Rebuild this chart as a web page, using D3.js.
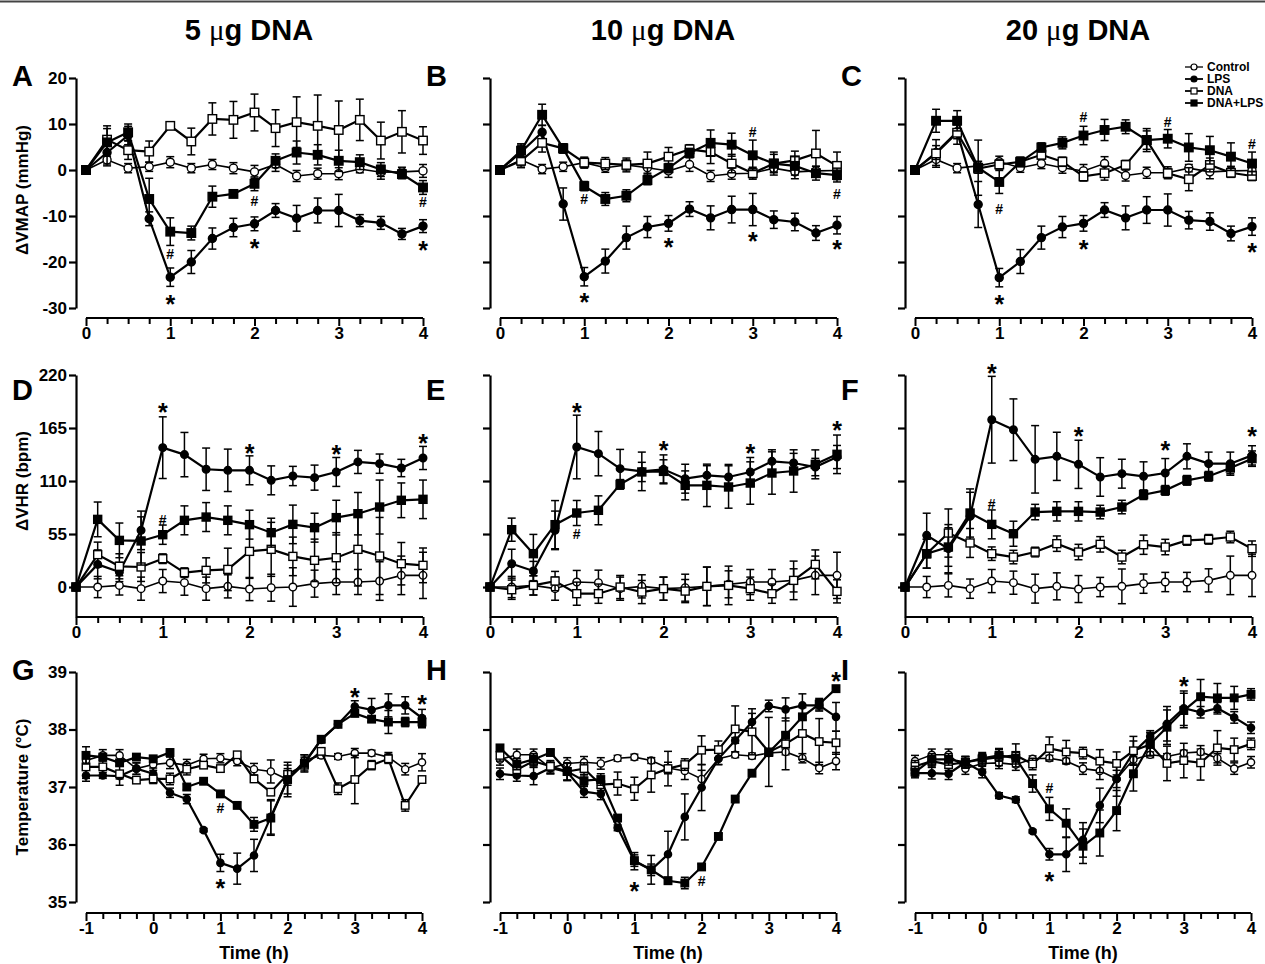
<!DOCTYPE html>
<html><head><meta charset="utf-8">
<script src="https://cdn.jsdelivr.net/npm/d3@7"></script>
<style>body{margin:0;background:#fff}svg{display:block}text{font-family:"Liberation Sans",Arial,sans-serif;font-weight:bold;fill:#000}</style>
</head><body><svg id="c" width="1265" height="964"></svg>
<script>
// ---------- data ----------
const timesHemo = [0,0.25,0.5,0.75,1,1.25,1.5,1.75,2,2.25,2.5,2.75,3,3.25,3.5,3.75,4];
const timesTemp = [-1,-0.75,-0.5,-0.25,0,0.25,0.5,0.75,1,1.25,1.5,1.75,2,2.25,2.5,2.75,3,3.25,3.5,3.75,4];
const seriesNames = ["Control","LPS","DNA","DNA+LPS"];
const doseTitles = ["5 μg DNA","10 μg DNA","20 μg DNA"];
const panelLetters = ["A","B","C","D","E","F","G","H","I"];
const rowLabels = ["ΔVMAP (mmHg)","ΔVHR (bpm)","Temperature (°C)"];
const ticksVMAP = [-30,-20,-10,0,10,20];
const ticksVHR = [0,55,110,165,220];
const ticksTemp = [35,36,37,38,39];

// Panel A (VMAP, 5 ug)
const A_ctrl=[0,2.2,0.4,0.7,1.7,0.4,1.2,0.4,-0.4,1.2,-1.3,-0.8,-0.8,0.2,-0.5,-0.4,-0.2];
const A_ctrl_e=[0,1.3,1,1,1.2,1,1.1,1.2,1.4,1.5,1.2,1.2,1.3,0.8,1.5,1,1.4];
const A_lps=[0,3.8,7.5,-10.6,-23.3,-20,-14.9,-12.5,-11.7,-8.8,-10.5,-8.8,-8.8,-11,-11.5,-13.9,-12.2];
const A_lps_e=[0,2.5,2,1.5,2,2.5,2.3,2,1.5,1.5,2.8,2.7,3.5,1.3,1.4,1.2,1.4];
const A_dna=[0,6.6,4.3,4.0,9.6,6.2,11.1,10.9,12.5,9.1,10.4,9.6,8.7,10.9,6.4,8.3,6.4];
const A_dna_e=[0,3,2,2.3,0.5,2.9,3.5,4,4,4,5.5,6.7,6.3,4.5,4,4.6,3];
const A_dl=[0,6,8.2,-6.3,-13.4,-13.7,-5.8,-5.2,-3.0,2.0,3.8,3.3,2.0,1.7,0.1,-0.9,-3.8];
const A_dl_e=[0,3,1.8,4.5,3,1.5,2.3,0.5,1.5,1.5,2.5,2.2,2.3,1.6,1.5,1.0,1.5];
const A_marks=[[1,-18.3,"#"],[1,-27.7,"*"],[2,-6.7,"#"],[2,-15.7,"*"],[4,-7,"#"],[4,-16,"*"]];

// Panel B (VMAP, 10 ug)
const B_ctrl=[0,2.2,0.2,0.7,1.6,0.5,1.1,0.5,-0.2,1.2,-1.3,-0.8,-0.7,0.4,-0.4,-0.2,-0.1];
const B_ctrl_e=[0,1.3,1,1,1.2,1,1.1,1.2,1.4,1.5,1.2,1.2,1.3,0.8,1.5,1,1.4];
const B_lps=[0,3.9,8.2,-7.4,-23.2,-19.8,-14.7,-12.4,-11.6,-8.5,-10.4,-8.6,-8.6,-10.8,-11.3,-13.7,-12.0];
const B_lps_e=[0,1.5,1.5,3.5,2,2.6,2.5,2.3,1.7,1.6,2.6,2.9,3.5,1.9,1.9,1.6,1.9];
const B_dna=[0,2.0,5.9,4.7,1.6,1.4,1.1,1.4,2.9,4.5,3.9,1.4,-0.7,1.4,2.1,3.6,0.9];
const B_dna_e=[0,1.5,2,1,1,1.3,1.5,2.5,2,1,2.5,2,1,2,2,5,3];
const B_dl=[0,4.2,12.0,4.7,-3.5,-6.3,-5.6,-2.2,0.4,3.7,5.9,5.5,3.2,1.4,0.9,-0.7,-1.1];
const B_dl_e=[0,1.5,2.3,1,1,1.4,1.3,1,1,1,2.8,2.5,3.3,2.5,2,1.5,1.5];
const B_marks=[[1,-6.3,"#"],[1,-27.3,"*"],[2,-15.4,"*"],[3,8.3,"#"],[3,-14,"*"],[4,-5.3,"#"],[4,-15.8,"*"]];

// Panel C (VMAP, 20 ug)
const C_ctrl=[0,2.3,0.4,0.9,1.8,0.5,1.4,0.5,-0.2,1.4,-1.2,-0.6,-0.6,0.4,-0.4,-0.2,-0.1];
const C_ctrl_e=[0,1.3,1,1,1.2,1,1.1,1.2,1.4,1.5,1.2,1.2,1.3,0.8,1.5,1,1.4];
const C_lps=[0,3.8,8.3,-7.5,-23.4,-19.9,-14.7,-12.4,-11.6,-8.7,-10.4,-8.7,-8.7,-10.9,-11.2,-13.8,-12.3];
const C_lps_e=[0,1.5,1.5,5,2,2.6,2.5,2.3,1.7,1.6,2.6,2.9,3.5,1.9,1.9,1.6,1.9];
const C_dna=[0,3.6,8.1,0.3,1.2,1.8,3.3,1.8,-1.4,-0.7,1.1,6.5,-0.7,-2.0,1.1,-0.6,-1.3];
const C_dna_e=[0,3,2.5,1,1,1,1,1,1,1.5,1,2.5,1,2.5,1.5,1,1];
const C_dl=[0,10.7,10.7,0.5,-2.6,1.7,4.9,5.9,7.5,8.7,9.4,6.5,6.8,4.9,4.3,2.9,1.4];
const C_dl_e=[0,2.5,2.2,6,2.5,1,1,1.3,2,2.3,1.5,2,2,3,3,3,2.5];
const C_marks=[[1,-8.4,"#"],[1,-27.8,"*"],[2,11.6,"#"],[2,-15.8,"*"],[3,10.5,"#"],[4,5.6,"#"],[4,-16.4,"*"]];

// Panel D (VHR, 5 ug)
const D_ctrl=[0,0,1.7,-1.7,6.2,4.5,-1.7,0.7,-2.1,-0.7,0,3.5,5.2,5.2,6.2,12.1,12.1];
const D_ctrl_e=[0,11,10,12,12,13,12,12,12,14,20,14,13,13,20,20,24];
const D_lps=[0,23.5,15.6,58.8,144.6,137.4,122.2,121.1,121.1,110.7,115.2,113.5,119.4,129.8,128,123.5,133.9];
const D_lps_e=[0,15,10,20,32,23,22,22,15,15,10,13,15,12,10,9,12];
const D_dna=[0,33.6,21.5,20.8,29.4,14.9,17.3,18.3,37,39.1,31.8,27.7,30.4,39.1,32.2,24.2,22.5];
const D_dna_e=[0,13,13,15,5,5,13,22,28,28,20,22,26,38,40,22,18];
const D_dl=[0,70.2,48.4,47.8,54.3,69.2,72.6,69.2,64.7,56.4,65,61.6,72,76.1,83,90,91];
const D_dl_e=[0,18,18,25,10,15,15,15,15,15,20,15,18,22,28,18,20];
const D_marks=[[1,188,"*"],[1,70,"#"],[2,146,"*"],[3,145,"*"],[4,156,"*"]];

// Panel E (VHR, 10 ug)
const E_ctrl=[0,0,1.7,-1.7,5.2,4.5,-1.7,0.7,-1.7,-0.7,0.7,2.8,5.2,5.2,6.9,12.1,12.1];
const E_ctrl_e=[0,11,10,12,12,13,12,12,12,14,20,14,13,13,20,20,24];
const E_lps=[0,24.2,16.6,58.8,145.3,138.4,122.8,120,122.1,112.4,115.9,114.2,119.4,130.4,128.7,124.5,134.9];
const E_lps_e=[0,15,10,20,33,23,20,20,15,15,10,13,15,12,10,9,12];
const E_dna=[0,-2.8,1.7,6.2,-6.9,-6.9,0,-5.2,-1.7,-4.2,0.7,1.7,-1.7,-6.9,6.9,23.5,-4.5];
const E_dna_e=[0,10,10,10,12,10,12,12,12,12,20,20,12,10,12,15,12];
const E_dl=[0,59.5,34.6,64.7,76.8,79.6,106.5,119.4,120,105.5,105.5,103.8,107.9,118.3,120.4,127.3,137.7];
const E_dl_e=[0,12,20,25,13,15,5,10,12,15,22,22,22,22,22,15,20];
const E_marks=[[1,188,"*"],[1,55,"#"],[2,149,"*"],[3,146,"*"],[4,169,"*"]];

// Panel F (VHR, 20 ug)
const F_ctrl=[0,0,1.7,-1.7,6.2,4.5,-1.7,0.7,-2.1,0,0.7,3.5,5.2,5.2,6.9,12.1,12.1];
const F_ctrl_e=[0,11,12,10,12,12,15,14,14,10,18,10,10,10,12,20,22];
const F_lps=[0,53.6,39.8,73.3,173.6,163.2,132.5,135.6,127.3,114.2,117.6,114.9,118.3,135.6,128,128,136.6];
const F_lps_e=[0,23,25,25,45,32,35,25,25,20,15,15,15,13,12,12,10];
const F_dna=[0,34.6,56,45.7,34.6,31.1,36.3,45,36.3,44.3,31.1,43.9,41.5,48.4,49.5,51.9,39.8];
const F_dna_e=[0,15,25,15,7,7,5,8,8,8,7,10,8,5,5,6,8];
const F_dl=[0,34.6,41.5,76.8,65,55.3,77.8,78.5,78.5,77.8,83,95.8,100.3,110.7,114.9,123.5,133.2];
const F_dl_e=[0,15,20,25,15,13,8,10,10,7,7,5,5,5,5,6,8];
const F_marks=[[1,229,"*"],[1,86,"#"],[2,163,"*"],[3,149,"*"],[4,163,"*"]];

// Panel G (Temperature, 5 ug)
const G_ctrl=[37.46,37.55,37.55,37.32,37.39,37.42,37.38,37.49,37.5,37.45,37.31,37.27,37.13,37.46,37.55,37.53,37.59,37.59,37.52,37.31,37.43];
const G_ctrl_e=[0.1,0.1,0.1,0.1,0.1,0.1,0.1,0.08,0.08,0.08,0.1,0.2,0.1,0.1,0.05,0.05,0.08,0.05,0.08,0.1,0.15];
const G_lps=[37.2,37.2,37.19,37.32,37.23,36.9,36.79,36.25,35.68,35.58,35.81,36.48,37.13,37.42,37.82,38.09,38.4,38.34,38.42,38.42,38.2];
const G_lps_e=[0.1,0.05,0.05,0.1,0.1,0.08,0.08,0.03,0.15,0.27,0.28,0.3,0.25,0.1,0.05,0.05,0.1,0.2,0.2,0.15,0.15];
const G_dna=[37.35,37.35,37.23,37.12,37.14,37.14,37.31,37.38,37.32,37.56,37.14,36.91,37.22,37.38,37.62,36.97,37.13,37.38,37.49,36.68,37.13];
const G_dna_e=[0.2,0.15,0.2,0.05,0.08,0.1,0.1,0.05,0.05,0.05,0.05,0.05,0.1,0.1,0.05,0.1,0.42,0.08,0.08,0.1,0.05];
const G_dl=[37.55,37.52,37.42,37.52,37.49,37.6,37.0,37.1,36.88,36.68,36.35,36.46,37.13,37.41,37.83,38.09,38.28,38.18,38.13,38.13,38.13];
const G_dl_e=[0.15,0.05,0.05,0.05,0.05,0.05,0.05,0.03,0.05,0.05,0.12,0.3,0.3,0.15,0.05,0.05,0.05,0.05,0.2,0.08,0.1];
const G_marks=[[1,35.35,"*"],[1,36.63,"#"],[3,38.68,"*"],[4,38.55,"*"]];

// Panel H (Temperature, 10 ug)
const H_ctrl=[37.48,37.56,37.56,37.33,37.41,37.43,37.41,37.5,37.52,37.46,37.33,37.28,37.14,37.49,37.56,37.54,37.59,37.61,37.5,37.33,37.45];
const H_ctrl_e=[0.1,0.1,0.1,0.1,0.1,0.1,0.1,0.05,0.05,0.05,0.1,0.15,0.15,0.1,0.05,0.05,0.05,0.05,0.08,0.1,0.15];
const H_lps=[37.23,37.2,37.19,37.33,37.26,36.92,36.88,36.29,35.71,35.56,35.83,36.48,36.99,37.49,37.81,38.13,38.41,38.35,38.42,38.42,38.22];
const H_lps_e=[0.1,0.1,0.15,0.1,0.15,0.1,0.1,0.05,0.15,0.25,0.4,0.4,0.4,0.1,0.05,0.15,0.1,0.2,0.2,0.1,0.25];
const H_dna=[37.55,37.3,37.45,37.36,37.27,37.32,37.04,37.06,36.97,37.21,37.32,37.39,37.64,37.65,38.01,37.96,37.61,37.75,37.93,37.79,37.77];
const H_dna_e=[0.1,0.1,0.1,0.1,0.15,0.1,0.1,0.2,0.2,0.3,0.3,0.1,0.25,0.15,0.4,0.4,0.6,0.45,0.45,0.4,0.2];
const H_dl=[37.68,37.4,37.48,37.6,37.27,37.11,37.13,36.46,35.72,35.56,35.37,35.33,35.61,36.14,36.79,37.24,37.6,37.9,38.22,38.44,38.71];
const H_dl_e=[0.05,0.1,0.1,0.05,0.15,0.1,0.1,0.05,0.1,0.1,0.05,0.1,0.05,0.05,0.05,0.05,0.05,0.05,0.05,0.1,0.03];
const H_marks=[[1,35.3,"*"],[2,35.36,"#"],[4,38.95,"*"]];

// Panel I (Temperature, 20 ug)
const I_ctrl=[37.45,37.56,37.56,37.32,37.41,37.42,37.39,37.49,37.5,37.45,37.32,37.28,37.14,37.48,37.56,37.53,37.59,37.61,37.5,37.32,37.43];
const I_ctrl_e=[0.1,0.1,0.1,0.1,0.1,0.1,0.1,0.05,0.05,0.05,0.1,0.15,0.15,0.1,0.05,0.05,0.05,0.05,0.08,0.1,0.1];
const I_lps=[37.24,37.24,37.23,37.43,37.26,36.85,36.78,36.23,35.83,35.83,36.08,36.68,37.14,37.6,37.88,38.1,38.37,38.3,38.37,38.21,38.03];
const I_lps_e=[0.05,0.1,0.1,0.1,0.1,0.05,0.05,0.03,0.1,0.3,0.3,0.3,0.3,0.2,0.1,0.3,0.3,0.1,0.1,0.1,0.1];
const I_dna=[37.36,37.45,37.39,37.43,37.48,37.52,37.55,37.4,37.67,37.61,37.59,37.45,37.41,37.63,37.74,37.41,37.46,37.42,37.68,37.65,37.75];
const I_dna_e=[0.1,0.1,0.1,0.1,0.1,0.15,0.2,0.1,0.2,0.2,0.1,0.2,0.2,0.25,0.2,0.3,0.3,0.3,0.3,0.2,0.1];
const I_dl=[37.26,37.48,37.48,37.43,37.5,37.55,37.5,37.06,36.62,36.37,35.97,36.2,36.59,37.23,37.75,38.04,38.33,38.57,38.55,38.55,38.61];
const I_dl_e=[0.1,0.1,0.1,0.1,0.1,0.1,0.1,0.15,0.2,0.25,0.3,0.4,0.35,0.3,0.2,0.3,0.3,0.3,0.25,0.2,0.1];
const I_marks=[[1,36.99,"#"],[1,35.47,"*"],[3,38.87,"*"]];

// ---------- assemble ----------
const panelData = [
  [[A_ctrl,A_ctrl_e],[A_lps,A_lps_e],[A_dna,A_dna_e],[A_dl,A_dl_e],A_marks],
  [[B_ctrl,B_ctrl_e],[B_lps,B_lps_e],[B_dna,B_dna_e],[B_dl,B_dl_e],B_marks],
  [[C_ctrl,C_ctrl_e],[C_lps,C_lps_e],[C_dna,C_dna_e],[C_dl,C_dl_e],C_marks],
  [[D_ctrl,D_ctrl_e],[D_lps,D_lps_e],[D_dna,D_dna_e],[D_dl,D_dl_e],D_marks],
  [[E_ctrl,E_ctrl_e],[E_lps,E_lps_e],[E_dna,E_dna_e],[E_dl,E_dl_e],E_marks],
  [[F_ctrl,F_ctrl_e],[F_lps,F_lps_e],[F_dna,F_dna_e],[F_dl,F_dl_e],F_marks],
  [[G_ctrl,G_ctrl_e],[G_lps,G_lps_e],[G_dna,G_dna_e],[G_dl,G_dl_e],G_marks],
  [[H_ctrl,H_ctrl_e],[H_lps,H_lps_e],[H_dna,H_dna_e],[H_dl,H_dl_e],H_marks],
  [[I_ctrl,I_ctrl_e],[I_lps,I_lps_e],[I_dna,I_dna_e],[I_dl,I_dl_e],I_marks]
];

const svg = d3.select("#c");
svg.append("line").attr("x1",0).attr("x2",1265).attr("y1",1.5).attr("y2",1.5).attr("stroke","#444").attr("stroke-width",2);

const colOff = [0, 414, 829];
const rowCfg = [
  {times: timesHemo, yDom:[-30,20], yRange:[308,78], yTicks: ticksVMAP, xDom:[0,4], xR:[86,423], xAxisY:318, letterY:86, r:4, sq:8.5},
  {times: timesHemo, yDom:[-31.1,220], yRange:[617,375], yTicks: ticksVHR, xDom:[0,4], xR:[76,423], xAxisY:617, letterY:400, r:3.8, sq:8},
  {times: timesTemp, yDom:[35,39], yRange:[902,672], yTicks: ticksTemp, xDom:[-1,4], xR:[86,422], xAxisY:913, letterY:680, r:3.6, sq:7.5}
];

// column titles
doseTitles.forEach((t,c)=>{
  const parts = t.split("μ");
  const tx = svg.append("text").attr("x",249+colOff[c]).attr("y",40).attr("text-anchor","middle").style("font-size","29px");
  tx.append("tspan").text(parts[0]);
  tx.append("tspan").text("μ").style("font-family","'Liberation Serif',serif").style("font-weight","normal");
  tx.append("tspan").text(parts[1]);
});

// row y labels
const rowLabelY = [190, 481, 787];
rowLabels.forEach((t,r)=>{
  svg.append("text").attr("transform",`translate(28,${rowLabelY[r]}) rotate(-90)`).attr("text-anchor","middle").style("font-size","17px").text(t);
});

const fmtTick = v => String(v);

for (let r=0;r<3;r++){
  const cfg = rowCfg[r];
  for (let c=0;c<3;c++){
    const p = r*3+c;
    const off = colOff[c];
    const g = svg.append("g");
    const x = d3.scaleLinear().domain(cfg.xDom).range([cfg.xR[0]+off, cfg.xR[1]+off]);
    const y = d3.scaleLinear().domain(cfg.yDom).range(cfg.yRange);
    const yAxisX = 76+off;

    // y axis
    const ya = g.append("g").attr("transform",`translate(${yAxisX},0)`)
      .call(d3.axisLeft(y).tickValues(cfg.yTicks).tickSize(7).tickSizeOuter(0).tickPadding(2).tickFormat(c===0? fmtTick: ()=>""));
    ya.select(".domain").attr("stroke","#000").attr("stroke-width",2.2);
    ya.selectAll(".tick line").attr("stroke","#000").attr("stroke-width",2.2);
    ya.selectAll("text").style("font-size","17px").style("font-family","'Liberation Sans',Arial,sans-serif").style("font-weight","bold");
    if (r===1){
      g.append("line").attr("x1",yAxisX).attr("x2",yAxisX).attr("y1",cfg.yRange[0]).attr("y2",cfg.xAxisY).attr("stroke","#000").attr("stroke-width",2.2);
    }

    // x axis with minor ticks
    const minor = d3.range(cfg.xDom[0], cfg.xDom[1]+0.001, 0.25);
    const xa = g.append("g").attr("transform",`translate(0,${cfg.xAxisY})`)
      .call(d3.axisBottom(x).tickValues(minor).tickSize(6).tickSizeOuter(0).tickPadding(3)
        .tickFormat(v=> Number.isInteger(v) ? String(v) : ""));
    xa.select(".domain").attr("stroke","#000").attr("stroke-width",2.2).attr("d",`M${x(cfg.xDom[0])},0H${x(cfg.xDom[1])}`);
    xa.selectAll(".tick line").attr("stroke","#000").attr("stroke-width",2).attr("y2",d=>Number.isInteger(d)?8:6);
    xa.selectAll("text").style("font-size","17px").style("font-family","'Liberation Sans',Arial,sans-serif").style("font-weight","bold");

    if (r===2){
      g.append("text").attr("x",(x(cfg.xDom[0])+x(cfg.xDom[1]))/2).attr("y",959).attr("text-anchor","middle").style("font-size","18px").text("Time (h)");
    }

    // panel letter
    g.append("text").attr("x",12+off).attr("y",cfg.letterY).style("font-size","29px").text(panelLetters[p]);

    // series
    const pd = panelData[p];
    const line = d3.line().x(d=>x(d.t)).y(d=>y(d.v));
    for (let s=0;s<4;s++){
      const vals = pd[s][0], errs = pd[s][1];
      const pts = cfg.times.map((t,i)=>({t, v: vals[i], e: errs[i]}));
      const sg = g.append("g");
      pts.filter(d=>d.e>0).forEach(d=>{
        const cx = x(d.t), y1 = y(d.v+d.e), y2 = y(d.v-d.e);
        sg.append("line").attr("x1",cx).attr("x2",cx).attr("y1",y1).attr("y2",y2).attr("stroke","#000").attr("stroke-width",1.5);
        sg.append("line").attr("x1",cx-4).attr("x2",cx+4).attr("y1",y1).attr("y2",y1).attr("stroke","#000").attr("stroke-width",1.5);
        sg.append("line").attr("x1",cx-4).attr("x2",cx+4).attr("y1",y2).attr("y2",y2).attr("stroke","#000").attr("stroke-width",1.5);
      });
      sg.append("path").datum(pts).attr("d",line).attr("fill","none").attr("stroke","#000").attr("stroke-width", s===0?1.6:2.2);
      const filled = (s===1||s===3);
      if (s<2){
        sg.selectAll("circle").data(pts).join("circle").attr("cx",d=>x(d.t)).attr("cy",d=>y(d.v)).attr("r",cfg.r)
          .attr("fill",filled?"#000":"#fff").attr("stroke","#000").attr("stroke-width",1.4);
      } else {
        const h = cfg.sq/2;
        sg.selectAll("rect").data(pts).join("rect").attr("x",d=>x(d.t)-h).attr("y",d=>y(d.v)-h).attr("width",cfg.sq).attr("height",cfg.sq)
          .attr("fill",filled?"#000":"#fff").attr("stroke","#000").attr("stroke-width",1.4);
      }
    }
    pd[4].forEach(m=>{
      const isStar = m[2]==="*";
      g.append("text").attr("x",x(m[0])).attr("y",y(m[1])).attr("text-anchor","middle").attr("dominant-baseline","central")
        .attr("dy", isStar? "0.25em":"0")
        .style("font-size", isStar?"25px":"14px").text(m[2]);
    });
  }
}

// legend
const legX = 1185, legY = [67,79,91,103];
seriesNames.forEach((n,i)=>{
  const gy = legY[i];
  svg.append("line").attr("x1",legX).attr("x2",legX+18).attr("y1",gy).attr("y2",gy).attr("stroke","#000").attr("stroke-width",i===0?1.3:1.8);
  if (i<2) svg.append("circle").attr("cx",legX+9).attr("cy",gy).attr("r",3).attr("fill",i===1?"#000":"#fff").attr("stroke","#000").attr("stroke-width",1.2);
  else svg.append("rect").attr("x",legX+6).attr("y",gy-3).attr("width",6).attr("height",6).attr("fill",i===3?"#000":"#fff").attr("stroke","#000").attr("stroke-width",1.2);
  svg.append("text").attr("x",legX+22).attr("y",gy).attr("dominant-baseline","central").style("font-size","12px").text(n);
});
</script></body></html>
